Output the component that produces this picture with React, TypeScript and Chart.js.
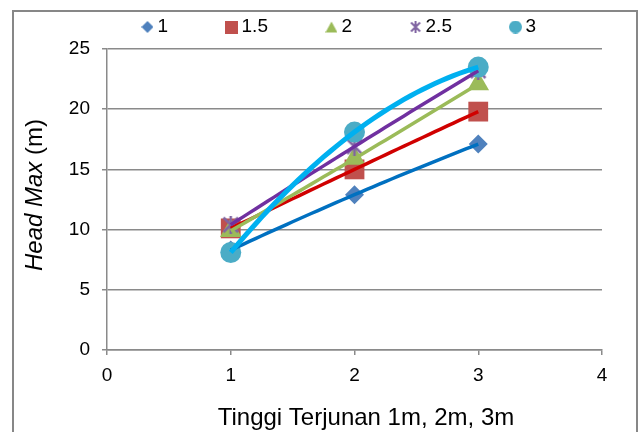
import React, { useEffect, useRef } from 'react';
import { Chart, registerables } from 'chart.js';

Chart.register(...registerables);

// ---- data ----
const xValues = [1, 2, 3];
const seriesNames = ['1', '1.5', '2', '2.5', '3'];
const series1 = [8.3, 12.9, 17.1];
const series15 = [10.1, 15.0, 19.8];
const series2 = [9.9, 15.9, 22.1];
const series25 = [10.4, 16.9, 23.2];
const series3 = [8.1, 18.1, 23.5];
const xTicks = [0, 1, 2, 3, 4];
const yTicks = [0, 5, 10, 15, 20, 25];
const xTitle = 'Tinggi Terjunan 1m, 2m, 3m';
const yTitleItalic = 'Head Max';
const yTitleNormal = ' (m)';

const allSeries = [series1, series15, series2, series25, series3];
const markerColors = ['#4F81BD', '#C0504D', '#9BBB59', '#8064A2', '#4BACC6'];
const trendColors = ['#0070C0', '#D00000', '#9BBB59', '#7030A0', '#00B0F0'];
const trendWidths = [3.5, 3.5, 3.5, 3.5, 5];
const FONT = '"Liberation Sans", Arial, sans-serif';

// polynomial (order 2) trendline through the three points, like Excel's
function trendPoints(xs: number[], ys: number[]) {
  const pts: { x: number; y: number }[] = [];
  const n = 40;
  const x0 = xs[0];
  const x1 = xs[xs.length - 1];
  for (let k = 0; k <= n; k++) {
    const x = x0 + ((x1 - x0) * k) / n;
    let y = 0;
    for (let i = 0; i < xs.length; i++) {
      let l = 1;
      for (let j = 0; j < xs.length; j++) {
        if (j !== i) l *= (x - xs[j]) / (xs[i] - xs[j]);
      }
      y += ys[i] * l;
    }
    pts.push({ x, y });
  }
  return pts;
}

function makeMarker(kind: string, size: number, color: string, lw = 2) {
  const c = document.createElement('canvas');
  c.width = size;
  c.height = size;
  const ctx = c.getContext('2d')!;
  const h = size / 2;
  ctx.fillStyle = color;
  ctx.strokeStyle = color;
  ctx.beginPath();
  if (kind === 'diamond') {
    ctx.moveTo(h, 0);
    ctx.lineTo(size, h);
    ctx.lineTo(h, size);
    ctx.lineTo(0, h);
    ctx.closePath();
    ctx.fill();
  } else if (kind === 'square') {
    ctx.fillRect(0, 0, size, size);
  } else if (kind === 'triangle') {
    ctx.moveTo(h, 0.5);
    ctx.lineTo(size, size - 0.5);
    ctx.lineTo(0, size - 0.5);
    ctx.closePath();
    ctx.fill();
  } else if (kind === 'circle') {
    ctx.arc(h, h, h, 0, Math.PI * 2);
    ctx.fill();
  } else if (kind === 'star') {
    ctx.lineWidth = lw;
    const m = lw / 2 + 0.5;
    ctx.moveTo(m, m);
    ctx.lineTo(size - m, size - m);
    ctx.moveTo(size - m, m);
    ctx.lineTo(m, size - m);
    ctx.moveTo(h, 0);
    ctx.lineTo(h, size);
    ctx.stroke();
  }
  return c;
}

export default function App() {
  const ref = useRef<HTMLCanvasElement | null>(null);

  useEffect(() => {
    if (!ref.current) return;
    Chart.defaults.font.family = FONT;
    Chart.defaults.color = '#000';

    const legendKinds = ['diamond', 'square', 'triangle', 'star', 'circle'];
    const legendSizes = [12, 13, 12, 12, 13];
    const legendMarkers = legendKinds.map((k, i) => makeMarker(k, legendSizes[i], markerColors[i], 2));
    const dataStar = makeMarker('star', 18, markerColors[3], 2.5);

    const pointStyles: any[] = ['rectRot', 'rect', 'triangle', dataStar, 'circle'];
    const pointRadii = [9.5, 14, 12.5, 9, 10.5];

    const scatterSets = allSeries.map((s, i) => ({
      label: seriesNames[i],
      data: xValues.map((x, k) => ({ x, y: s[k] })),
      pointStyle: pointStyles[i],
      pointRadius: pointRadii[i],
      pointBackgroundColor: markerColors[i],
      pointBorderColor: markerColors[i],
      pointBorderWidth: 0,
      showLine: false,
      order: 10 - i,
    }));
    const trendSets = allSeries.map((s, i) => ({
      label: 'trend ' + seriesNames[i],
      data: trendPoints(xValues, s),
      showLine: true,
      borderColor: trendColors[i],
      borderWidth: trendWidths[i],
      pointRadius: 0,
      fill: false,
      order: 4 - i,
    }));

    const LEGEND_PAD = 63;
    const TOP_PAD = -45.5;
    const LEGEND_H = 49 - TOP_PAD;

    const decor = {
      id: 'decor',
      beforeInit(chart: any) {
        const lg = chart.legend;
        if (lg) {
          const orig = lg.fit;
          lg.fit = function () {
            orig.call(this);
            this.height = LEGEND_H;
          };
        }
      },
      afterLayout(chart: any) {
        if (chart.legend) chart.legend.left = 81;
      },
      afterDraw(chart: any) {
        const ctx = chart.ctx as CanvasRenderingContext2D;
        ctx.save();
        ctx.strokeStyle = '#878787';
        ctx.lineWidth = 2;
        ctx.beginPath();
        ctx.moveTo(13, 440);
        ctx.lineTo(13, 11);
        ctx.lineTo(637, 11);
        ctx.lineTo(637, 440);
        ctx.stroke();

        ctx.fillStyle = '#000';
        ctx.font = '24px ' + FONT;
        ctx.textAlign = 'center';
        ctx.textBaseline = 'alphabetic';
        ctx.fillText(xTitle, 366, 425);

        ctx.translate(41.5, 195);
        ctx.rotate(-Math.PI / 2);
        const f1 = 'italic 24px ' + FONT;
        const f2 = '24px ' + FONT;
        ctx.font = f1;
        const w1 = ctx.measureText(yTitleItalic).width;
        ctx.font = f2;
        const w2 = ctx.measureText(yTitleNormal).width;
        const x0 = -(w1 + w2) / 2;
        ctx.textAlign = 'left';
        ctx.font = f1;
        ctx.fillText(yTitleItalic, x0, 0);
        ctx.font = f2;
        ctx.fillText(yTitleNormal, x0 + w1, 0);
        ctx.restore();
      },
    };

    const chart = new Chart(ref.current, {
      type: 'scatter',
      data: { datasets: [...scatterSets, ...trendSets] as any },
      options: {
        animation: false,
        responsive: false,
        devicePixelRatio: 1,
        events: [],
        layout: { padding: { top: TOP_PAD, left: 0, right: 37, bottom: 0 } },
        plugins: {
          tooltip: { enabled: false },
          legend: {
            display: true,
            position: 'top',
            labels: {
              usePointStyle: true,
              boxWidth: 1,
              boxHeight: 10,
              padding: LEGEND_PAD,
              color: '#000',
              font: { size: 19, family: FONT },
              generateLabels: () =>
                seriesNames.map((name, i) => ({
                  text: name,
                  fillStyle: markerColors[i],
                  strokeStyle: markerColors[i],
                  lineWidth: 0,
                  hidden: false,
                  pointStyle: legendMarkers[i],
                  datasetIndex: i,
                })),
            },
          },
        },
        scales: {
          x: {
            type: 'linear',
            min: xTicks[0],
            max: xTicks[xTicks.length - 1],
            afterBuildTicks: (s: any) => {
              s.ticks = xTicks.map((v) => ({ value: v }));
            },
            afterFit: (s: any) => {
              s.height = 82;
            },
            grid: {
              drawOnChartArea: false,
              drawTicks: true,
              tickLength: 5,
              color: '#8a8a8a',
              lineWidth: 1.5,
            },
            border: { display: true, color: '#8a8a8a', width: 1.5 },
            ticks: { padding: 9, color: '#000', font: { size: 19, family: FONT } },
          },
          y: {
            type: 'linear',
            min: yTicks[0],
            max: yTicks[yTicks.length - 1],
            afterBuildTicks: (s: any) => {
              s.ticks = yTicks.map((v) => ({ value: v }));
            },
            afterFit: (s: any) => {
              s.width = 107;
            },
            grid: {
              drawOnChartArea: true,
              drawTicks: true,
              tickLength: 5,
              color: '#8a8a8a',
              lineWidth: 1.5,
            },
            border: { display: true, color: '#8a8a8a', width: 1.5 },
            ticks: { padding: 12, color: '#000', font: { size: 19, family: FONT } },
          },
        },
      },
      plugins: [decor],
    });
    return () => chart.destroy();
  }, []);

  return (
    <div style={{ position: 'absolute', left: 0, top: 0, width: 639, height: 432 }}>
      <canvas ref={ref} width={639} height={432} style={{ display: 'block' }} />
    </div>
  );
}
